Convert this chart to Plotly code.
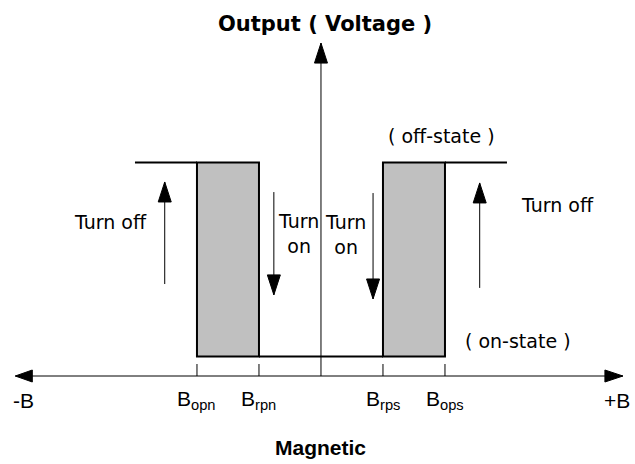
import plotly.graph_objects as go

# ---- data (field in arbitrary units, output in arbitrary volts) ----
tick_labels = ["B<sub>opn</sub>", "B<sub>rpn</sub>", "B<sub>rps</sub>", "B<sub>ops</sub>"]
tick_B = [-2.0, -1.0, 1.0, 2.0]
B_axis = [-4.93, 4.87]
B_outer = [-3.0, 3.0]
V_on = 0.1
V_off = 1.1
V_axis_top = 1.716

# state-change arrows: position, tail level, tip level
arrow_B = [-2.52, -0.76, 0.84, 2.56]
arrow_tail = [0.474, 0.948, 0.943, 0.454]
arrow_tip = [1.0, 0.418, 0.397, 0.995]

# text labels
label_text = ["Turn off", "Turn<br>on", "Turn<br>on", "Turn off", "( off-state )", "( on-state )"]
label_B = [-3.40, -0.37, 0.39, 3.81, 1.94, 3.18]
label_V = [0.794, 0.737, 0.727, 0.88, 1.237, 0.18]

end_labels = ["-B", "+B"]
end_B = [-4.79, 4.78]
label_row_V = -0.124

FONT = "Liberation Sans, Arial, sans-serif"
FONT2 = "DejaVu Sans, Verdana, sans-serif"
X_RANGE = [-5.177, 5.065]
Y_RANGE = [-0.4536, 1.938]

fig = go.Figure()

shapes = []
# hysteresis rectangles
for i in (0, 2):
    shapes.append(dict(type="rect", x0=tick_B[i], x1=tick_B[i + 1], y0=V_on, y1=V_off,
                       fillcolor="#c0c0c0", line=dict(color="black", width=2), layer="below"))

# loop lines
fig.add_trace(go.Scatter(
    x=[B_outer[0], tick_B[0], None, tick_B[1], tick_B[2], None, tick_B[3], B_outer[1]],
    y=[V_off, V_off, None, V_on, V_on, None, V_off, V_off],
    mode="lines", line=dict(color="black", width=2), hoverinfo="skip", showlegend=False))

# axes
shapes.append(dict(type="line", x0=B_axis[0], x1=B_axis[1], y0=0, y1=0,
                   line=dict(color="black", width=1)))
shapes.append(dict(type="line", x0=0, x1=0, y0=0, y1=V_axis_top,
                   line=dict(color="black", width=1)))
# axis arrowheads (pixel sized, anchored at data tips)
shapes.append(dict(type="path", xsizemode="pixel", ysizemode="pixel", xanchor=B_axis[0], yanchor=0,
                   path="M0,0 L17,6 L17,-6 Z", fillcolor="black", line=dict(color="black", width=1)))
shapes.append(dict(type="path", xsizemode="pixel", ysizemode="pixel", xanchor=B_axis[1], yanchor=0,
                   path="M0,0 L-18,6 L-18,-6 Z", fillcolor="black", line=dict(color="black", width=1)))
shapes.append(dict(type="path", xsizemode="pixel", ysizemode="pixel", xanchor=0, yanchor=V_axis_top,
                   path="M0,0 L-6.5,-20 L6.5,-20 Z", fillcolor="black", line=dict(color="black", width=1)))

# ticks
for b in tick_B:
    shapes.append(dict(type="line", ysizemode="pixel", yanchor=0, y0=0, y1=12, x0=b, x1=b,
                       line=dict(color="black", width=1)))

# state-change arrows
for b, t0, t1 in zip(arrow_B, arrow_tail, arrow_tip):
    shapes.append(dict(type="line", x0=b, x1=b, y0=t0, y1=t1, line=dict(color="black", width=1)))
    d = -20 if t1 > t0 else 20
    shapes.append(dict(type="path", xsizemode="pixel", ysizemode="pixel", xanchor=b, yanchor=t1,
                       path=f"M0,0 L-6.5,{d} L6.5,{d} Z", fillcolor="black",
                       line=dict(color="black", width=1)))

annotations = []
for t, b, v in zip(label_text, label_B, label_V):
    annotations.append(dict(x=b, y=v, text=t, showarrow=False, xanchor="center", yanchor="middle",
                            font=dict(size=19, color="black", family=FONT2)))
for t, b in zip(end_labels, end_B):
    annotations.append(dict(x=b, y=label_row_V, text=t, showarrow=False, xanchor="center", yanchor="middle",
                            font=dict(size=21, color="black", family=FONT)))
for t, b in zip(tick_labels, tick_B):
    annotations.append(dict(x=b, y=label_row_V, text=t, showarrow=False, xanchor="center", yanchor="middle",
                            font=dict(size=21, color="black", family=FONT)))

annotations.append(dict(x=0.06, y=1.814, text="<b>Output ( Voltage )</b>", showarrow=False,
                        xanchor="center", yanchor="middle", font=dict(size=21, color="black", family=FONT2)))
annotations.append(dict(x=0.0, y=-0.366, text="<b>Magnetic</b>", showarrow=False,
                        xanchor="center", yanchor="middle", font=dict(size=21, color="black", family=FONT)))

fig.update_layout(
    width=635, height=464, margin=dict(l=0, r=0, t=0, b=0),
    paper_bgcolor="white", plot_bgcolor="white",
    xaxis=dict(range=X_RANGE, visible=False, fixedrange=True),
    yaxis=dict(range=Y_RANGE, visible=False, fixedrange=True),
    shapes=shapes, annotations=annotations, showlegend=False,
)

fig.write_html("out.html", config={"displayModeBar": False},
               post_script="document.body.style.margin='0';document.body.style.overflow='hidden';")
